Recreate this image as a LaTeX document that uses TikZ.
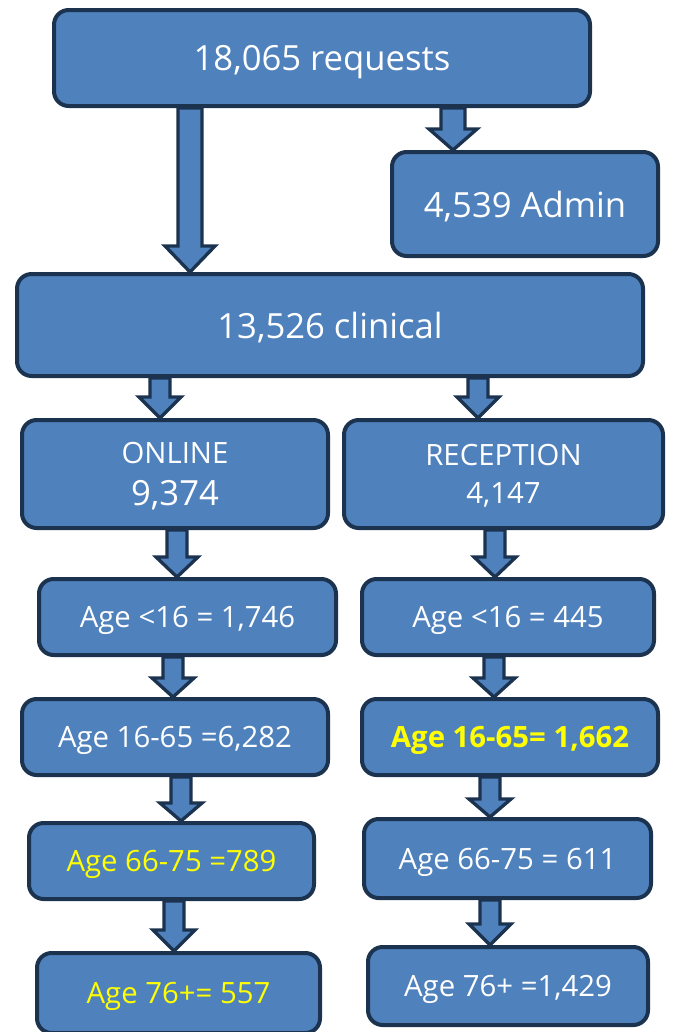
\documentclass[tikz,border=0pt]{standalone}
\usepackage{fontspec}
\setmainfont{Open Sans}
\usetikzlibrary{calc}

\definecolor{boxblue}{HTML}{4F81BD}
\definecolor{boxedge}{HTML}{1C3350}
\definecolor{ageyellow}{HTML}{FFFF00}

\tikzset{
  box/.style={draw=boxedge, fill=boxblue, line width=3pt, rounded corners=11pt,
    text=white, align=center, inner sep=0pt, text depth=0pt},
  blockarrow/.style={draw=boxedge, fill=boxblue, line width=2.5pt, line join=miter},
  bigtext/.style={font=\fontsize{26}{31}\selectfont},
  midtext/.style={font=\fontsize{22}{30}\selectfont},
}

% block arrow: from, to, x (px), shaft half, head half, head length (px)
\newcommand{\flowarrow}[6]{%
  \draw[blockarrow] let \p1=(#1.south), \p2=(#2.north), \p3=(#3,0) in
    (\x3-#4*0.75pt,\y1) -- (\x3+#4*0.75pt,\y1) -- (\x3+#4*0.75pt,\y2+#6*0.75pt)
    -- (\x3+#5*0.75pt,\y2+#6*0.75pt) -- (\x3,\y2) -- (\x3-#5*0.75pt,\y2+#6*0.75pt)
    -- (\x3-#4*0.75pt,\y2+#6*0.75pt) -- cycle;}

\begin{document}
\begin{tikzpicture}[x=0.75pt, y=-0.75pt]
\useasboundingbox (0,0) rectangle (673,1032);

% Totals
\node[box, bigtext, minimum width=536*0.75pt, minimum height=96*0.75pt] (req) at (322,58) {18,065 requests};
\node[box, bigtext, minimum width=266*0.75pt, minimum height=104*0.75pt] (admin) at (525,204) {4,539 Admin};
\node[box, bigtext, minimum width=626*0.75pt, minimum height=102*0.75pt] (clin) at (330,325) {13,526 clinical};

% Channels
\node[box, font=\fontsize{22}{32}\selectfont, minimum width=306*0.75pt, minimum height=108*0.75pt] (online) at (175,474)
  {ONLINE\\{\fontsize{26}{32}\selectfont 9,374}};
\node[box, midtext, minimum width=319*0.75pt, minimum height=108*0.75pt] (recep) at (503.5,474)
  {RECEPTION\\[-2pt]4,147};

% Online age groups
\node[box, midtext, minimum width=297*0.75pt, minimum height=76*0.75pt] (underL) at (187.5,617) {Age <16 = 1,746};
\node[box, midtext, minimum width=306*0.75pt, minimum height=76*0.75pt] (midL) at (175,737) {Age 16-65 =6,282};
\node[box, midtext, text=ageyellow, minimum width=285*0.75pt, minimum height=76*0.75pt] (oldL) at (171.5,861) {Age 66-75 =789};
\node[box, midtext, text=ageyellow, minimum width=283*0.75pt, minimum height=80*0.75pt] (eldL) at (178.5,993) {Age 76+= 557};

% Reception age groups
\node[box, midtext, minimum width=292*0.75pt, minimum height=76*0.75pt] (underR) at (508,617) {Age <16 = 445};
\node[box, midtext, text=ageyellow, minimum width=296*0.75pt, minimum height=76*0.75pt] (midR) at (510,737) {\bfseries Age 16-65= 1,662};
\node[box, midtext, minimum width=287*0.75pt, minimum height=79*0.75pt] (oldR) at (507.5,858.5) {Age 66-75 = 611};
\node[box, midtext, minimum width=280*0.75pt, minimum height=78*0.75pt] (eldR) at (508,986) {Age 76+ =1,429};

% Arrows
\flowarrow{req}{clin}{190}{12}{25}{26}
\flowarrow{req}{admin}{453}{12}{24}{21}
\flowarrow{clin}{online}{160}{10}{21}{21}
\flowarrow{clin}{recep}{478}{10}{21}{21}
\flowarrow{online}{underL}{177}{10}{21}{20}
\flowarrow{recep}{underR}{495}{10}{21}{20}
\flowarrow{underL}{midL}{173}{10}{21}{19}
\flowarrow{underR}{midR}{494}{10}{21}{19}
\flowarrow{midL}{oldL}{181}{10}{21}{18}
\flowarrow{midR}{oldR}{490}{10}{21}{18}
\flowarrow{oldL}{eldL}{174}{10}{21}{21}
\flowarrow{oldR}{eldR}{490}{10}{21}{21}

\end{tikzpicture}
\end{document}
